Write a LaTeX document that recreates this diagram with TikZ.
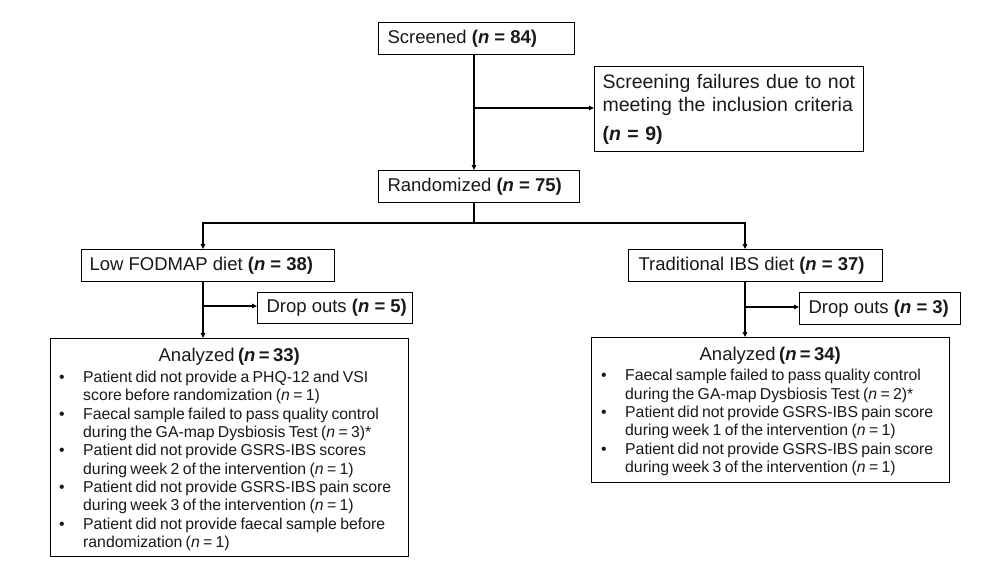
\documentclass[tikz,border=0pt]{standalone}
\usepackage{fontspec}
\setmainfont{Liberation Sans}
\usetikzlibrary{arrows.meta}
\newcommand\lbx[2]{\makebox[#1][l]{#2}}
\newcommand\bul[2]{\par\noindent\makebox[24pt][l]{\textbullet}\mbox{#1}\newline\hspace*{24pt}\mbox{#2}}
\newcommand\nn[1]{\textbf{(\textit{n} = #1)}}
\tikzset{
  box/.style={draw=black, line width=1.1pt, anchor=north west, inner ysep=0pt,
    text=black!90, font=\fontsize{18.5}{22}\selectfont},
  conn/.style={draw=black, line width=1.3pt},
  arr/.style={conn, -{Triangle[length=5pt,width=4.5pt]}},
  arr2/.style={conn, {Triangle[length=5pt,width=4.5pt]}-{Triangle[length=5pt,width=4.5pt]}},
  listtxt/.style={anchor=north west, inner sep=0pt, text=black!90, align=left}
}
\begin{document}
\begin{tikzpicture}[x=1pt,y=-1pt]
\useasboundingbox[fill=white] (0,0) rectangle (1000,576);

\node[box, minimum width=196pt, minimum height=32pt, inner xsep=9pt] (scr) at (378,22)
  {\lbx{178pt}{Screened \nn{84}}};
\node[box, minimum width=269pt, minimum height=85pt, inner xsep=8pt, text width=253pt,
  align=left, font=\fontsize{19.5}{23}\selectfont] (fail) at (594,66)
  {Screening failures due to not\\meeting the inclusion criteria\\[6pt]\nn{9}};
\node[box, minimum width=201pt, minimum height=32pt, inner xsep=9pt] (ran) at (378,170)
  {\lbx{183pt}{Randomized \nn{75}}};
\node[box, minimum width=253pt, minimum height=32pt, inner xsep=8pt] (lowf) at (81,249)
  {\lbx{237pt}{Low FODMAP diet \nn{38}}};
\node[box, minimum width=254pt, minimum height=32pt, inner xsep=10pt] (trad) at (628,249)
  {\lbx{234pt}{Traditional IBS diet \nn{37}}};
\node[box, minimum width=155pt, minimum height=31pt, inner xsep=9pt] (dropl) at (257,292)
  {\lbx{137pt}{Drop outs \nn{5}}};
\node[box, minimum width=161pt, minimum height=32pt, inner xsep=9pt] (dropr) at (799,292)
  {\lbx{143pt}{Drop outs \nn{3}}};

\node[box, minimum width=358pt, minimum height=218pt, inner sep=0pt] (anl) at (50,338) {};
\node[box, minimum width=358pt, minimum height=145pt, inner sep=0pt] (anr) at (591,337) {};

\node[listtxt, text width=340pt] (anltxt) at (59,348) {%
  {\centering\fontsize{18.5}{22}\selectfont Analyzed \nn{33}\par}%
  \vspace{2.7pt}%
  \fontsize{15.8}{18.33}\selectfont
  \bul{Patient did not provide a PHQ-12 and VSI}{score before randomization (\textit{n} = 1)}
  \bul{Faecal sample failed to pass quality control}{during the GA-map Dysbiosis Test (\textit{n} = 3)*}
  \bul{Patient did not provide GSRS-IBS scores}{during week 2 of the intervention (\textit{n} = 1)}
  \bul{Patient did not provide GSRS-IBS pain score}{during week 3 of the intervention (\textit{n} = 1)}
  \bul{Patient did not provide faecal sample before}{randomization (\textit{n} = 1)}\par};

\node[listtxt, text width=338pt] (anrtxt) at (601,347) {%
  {\centering\fontsize{18.5}{22}\selectfont Analyzed \nn{34}\par}%
  \vspace{1.6pt}%
  \fontsize{15.8}{18.4}\selectfont
  \bul{Faecal sample failed to pass quality control}{during the GA-map Dysbiosis Test (\textit{n} = 2)*}
  \bul{Patient did not provide GSRS-IBS pain score}{during week 1 of the intervention (\textit{n} = 1)}
  \bul{Patient did not provide GSRS-IBS pain score}{during week 3 of the intervention (\textit{n} = 1)}\par};

\coordinate (j1) at (474,108);
\coordinate (j2) at (474,223);
\coordinate (jl) at (203,223);
\coordinate (jr) at (745,223);
\coordinate (cl) at (203,306);
\coordinate (cr) at (745,307);

\draw[arr] (scr.south -| j1) -- (ran.north -| j1);
\draw[arr] (j1) -- (j1 -| fail.west);
\draw[conn] (ran.south -| j2) -- (j2);
\draw[arr2] (lowf.north -| jl) -- (jl) -- (jr) -- (trad.north -| jr);
\draw[arr] (lowf.south -| cl) -- (anl.north -| cl);
\draw[arr] (cl) -- (cl -| dropl.west);
\draw[arr] (trad.south -| cr) -- (anr.north -| cr);
\draw[arr] (cr) -- (cr -| dropr.west);
\end{tikzpicture}
\end{document}
